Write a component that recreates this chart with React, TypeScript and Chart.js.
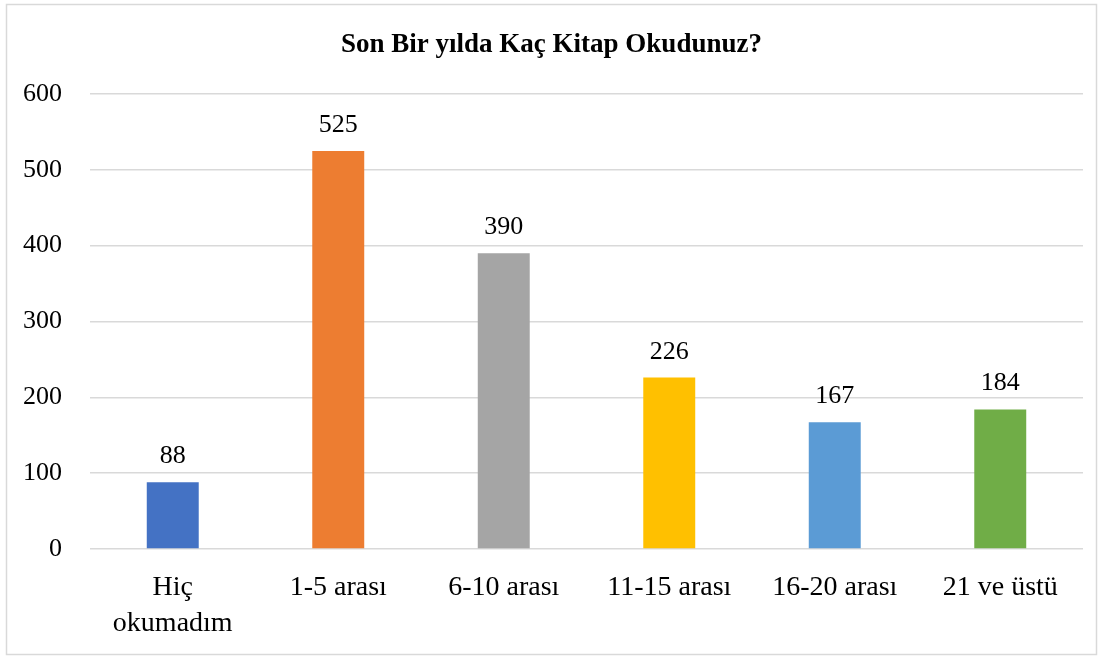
import React, { useEffect, useRef } from "react";
import { Chart, registerables } from "chart.js";

Chart.register(...registerables);

const title = "Son Bir yılda Kaç Kitap Okudunuz?";
const categories: (string | string[])[] = [
  ["Hiç", "okumadım"],
  "1-5 arası",
  "6-10 arası",
  "11-15 arası",
  "16-20 arası",
  "21 ve üstü",
];
const values = [88, 525, 390, 226, 167, 184];
const barColors = ["#4472C4", "#ED7D31", "#A5A5A5", "#FFC000", "#5B9BD5", "#70AD47"];
const yTicks = [0, 100, 200, 300, 400, 500, 600];

const FONT = "'Liberation Serif', 'Times New Roman', serif";

const decorPlugin = {
  id: "decor",
  beforeDraw(chart: any) {
    const ctx = chart.ctx;
    ctx.save();
    ctx.fillStyle = "#ffffff";
    ctx.fillRect(0, 0, chart.width, chart.height);
    ctx.strokeStyle = "#d9d9d9";
    ctx.lineWidth = 1.5;
    ctx.strokeRect(6.5, 4.5, chart.width - 13, chart.height - 8);
    ctx.fillStyle = "#000000";
    ctx.font = `bold 27px ${FONT}`;
    ctx.textAlign = "center";
    ctx.textBaseline = "alphabetic";
    ctx.fillText(title, chart.width / 2, 52);
    ctx.restore();
  },
  afterDatasetsDraw(chart: any) {
    const ctx = chart.ctx;
    const meta = chart.getDatasetMeta(0);
    ctx.save();
    ctx.fillStyle = "#000000";
    ctx.font = `26px ${FONT}`;
    ctx.textAlign = "center";
    ctx.textBaseline = "alphabetic";
    meta.data.forEach((bar: any, i: number) => {
      ctx.fillText(String(values[i]), bar.x, bar.y - 19);
    });
    ctx.restore();
  },
};

export default function App() {
  const ref = useRef<HTMLCanvasElement>(null);
  useEffect(() => {
    document.body.style.margin = "0";
    const chart = new Chart(ref.current!, {
      type: "bar",
      data: {
        labels: categories,
        datasets: [
          {
            data: values,
            backgroundColor: barColors,
            categoryPercentage: 1,
            barPercentage: 0.314,
          },
        ],
      },
      options: {
        animation: false,
        responsive: false,
        layout: { padding: { top: 94, right: 20, left: 0, bottom: 0 } },
        plugins: {
          legend: { display: false },
          title: { display: false },
          tooltip: { enabled: false },
        },
        scales: {
          x: {
            grid: { display: false, drawTicks: false },
            border: { display: false },
            ticks: {
              color: "#000",
              font: { family: FONT, size: 28, lineHeight: 1.3 },
              padding: 20,
              maxRotation: 0,
              autoSkip: false,
            },
            afterFit: (s: any) => {
              s.height = 109;
            },
          },
          y: {
            min: 0,
            max: 600,
            afterBuildTicks: (s: any) => {
              s.ticks = yTicks.map((v) => ({ value: v }));
            },
            grid: { color: "#d9d9d9", lineWidth: 1.5, drawTicks: false },
            border: { display: false },
            ticks: {
              color: "#000",
              font: { family: FONT, size: 26 },
              padding: 28,
            },
            afterFit: (s: any) => {
              s.width = 90;
            },
          },
        },
      },
      plugins: [decorPlugin],
    });
    return () => chart.destroy();
  }, []);
  return <canvas ref={ref} width={1103} height={658} style={{ display: "block" }} />;
}
